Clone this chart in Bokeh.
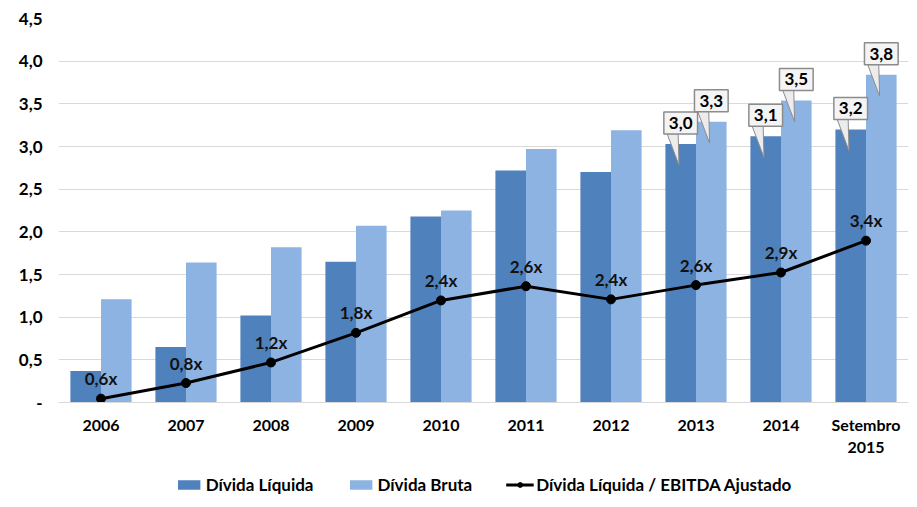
from bokeh.plotting import figure
from bokeh.layouts import column
from bokeh.models import (ColumnDataSource, FactorRange, Range1d, FixedTicker,
                          Legend, LegendItem)
from bokeh.transform import dodge
from bokeh.core.properties import value
from bokeh.embed import file_html
from bokeh.resources import INLINE

# ---------------- data ----------------
categories = ["2006", "2007", "2008", "2009", "2010", "2011", "2012", "2013", "2014", "Setembro\n2015"]
divida_liquida = [0.37, 0.65, 1.02, 1.65, 2.18, 2.72, 2.70, 3.03, 3.12, 3.20]
divida_bruta = [1.21, 1.64, 1.82, 2.07, 2.25, 2.97, 3.19, 3.29, 3.54, 3.84]
ratio = [0.57, 0.855, 1.23, 1.77, 2.36, 2.62, 2.38, 2.64, 2.87, 3.45]
ratio_labels = ["0,6x", "0,8x", "1,2x", "1,8x", "2,4x", "2,6x", "2,4x", "2,6x", "2,9x", "3,4x"]
callout_categories = ["2013", "2014", "Setembro\n2015"]
y_ticks = [0.0, 0.5, 1.0, 1.5, 2.0, 2.5, 3.0, 3.5, 4.0, 4.5]
y_tick_labels = ["-", "0,5", "1,0", "1,5", "2,0", "2,5", "3,0", "3,5", "4,0", "4,5"]
series_names = ["Dívida Líquida", "Dívida Bruta", "Dívida Líquida / EBITDA Ajustado"]

# ---------------- styles ----------------
FONT = "Lato"
DARK = "#4f81bd"
LIGHT = "#8db3e2"
GRID = "#d9d9d9"
BAR_W = 0.36
DODGE = 0.18

source = ColumnDataSource(dict(cat=categories, liq=divida_liquida, bru=divida_bruta,
                               ratio=ratio, rlab=ratio_labels))

p = figure(x_range=FactorRange(*categories), y_range=Range1d(0, 4.5),
           width=910, height=469,
           min_border_left=58, min_border_right=2, min_border_top=18, min_border_bottom=67,
           output_backend="svg", toolbar_location=None)
p.extra_y_ranges = {"ratio": Range1d(0.5, 7.5)}
p.outline_line_color = None
p.background_fill_color = "white"
p.border_fill_color = "white"

line_style = dict(line_color="black", line_width=3)
dot_style = dict(size=9, fill_color="black", line_color="black")

p.vbar(x=dodge("cat", -DODGE, range=p.x_range), top="liq", source=source,
       width=BAR_W, fill_color=DARK, line_color=None)
p.vbar(x=dodge("cat", DODGE, range=p.x_range), top="bru", source=source,
       width=BAR_W, fill_color=LIGHT, line_color=None)

p.line(x="cat", y="ratio", source=source, y_range_name="ratio", **line_style)
p.scatter(x="cat", y="ratio", source=source, y_range_name="ratio", **dot_style)
p.text(x="cat", y="ratio", text="rlab", source=source, y_range_name="ratio",
       y_offset=-20, text_align="center", text_baseline="middle",
       text_font=value(FONT), text_font_style="bold", text_font_size="17px",
       text_color="#111111")

# ---------------- callouts ----------------
cx, cy, ctext, pxs, pys = [], [], [], [], []
for c in callout_categories:
    i = categories.index(c)
    for off, v in ((-DODGE, divida_liquida[i]), (DODGE, divida_bruta[i])):
        xc = i + 0.5 + off
        cx.append(xc)
        cy.append(v)
        ctext.append(f"{v:.1f}".replace(".", ","))
        pxs.append([xc - 0.16, xc - 0.03, xc - 0.02])
        pys.append([v + 0.12, v + 0.12, v - 0.25])

csrc = ColumnDataSource(dict(x=cx, y=cy, t=ctext))
p.patches(xs=pxs, ys=pys, fill_color="#ececec", line_color="#8c8c8c", line_width=1)
p.text(x="x", y="y", text="t", source=csrc, y_offset=-21,
       text_align="center", text_baseline="middle",
       text_font=value(FONT), text_font_style="bold", text_font_size="17px",
       text_color="black", background_fill_color="#f4f4f4",
       border_line_color="#8c8c8c", border_line_width=1.5, padding=5)

# ---------------- axes / grid ----------------
p.xgrid.grid_line_color = None
p.ygrid.grid_line_color = GRID
p.ygrid.ticker = FixedTicker(ticks=y_ticks)

p.yaxis.ticker = FixedTicker(ticks=y_ticks)
p.yaxis.major_label_overrides = dict(zip(y_ticks, y_tick_labels))
p.yaxis.axis_line_color = None
p.yaxis.major_tick_line_color = None
p.yaxis.minor_tick_line_color = None
p.yaxis.major_label_standoff = 10
p.yaxis.major_label_text_font = FONT
p.yaxis.major_label_text_font_style = "bold"
p.yaxis.major_label_text_font_size = "17px"
p.yaxis.major_label_text_color = "black"

p.xaxis.axis_line_color = GRID
p.xaxis.major_tick_line_color = None
p.xaxis.minor_tick_line_color = None
p.xaxis.major_label_standoff = 6
p.xaxis.major_label_text_font = FONT
p.xaxis.major_label_text_font_style = "bold"
p.xaxis.major_label_text_font_size = "16px"
p.xaxis.major_label_text_color = "black"

# ---------------- legend (strip below the chart; series kept out of view) ----------------
lg = figure(width=910, height=30, x_range=p.x_range, y_range=Range1d(-2, -1),
            x_axis_type=None, y_axis_type=None, min_border=0,
            output_backend="svg", toolbar_location=None)
lg.extra_y_ranges = {"ratio": Range1d(-2, -1)}
lg.outline_line_color = None
lg.xgrid.visible = False
lg.ygrid.visible = False
r1 = lg.vbar(x="cat", top="liq", source=source, width=0.0001, fill_color=DARK, line_color=None)
r2 = lg.vbar(x="cat", top="bru", source=source, width=0.0001, fill_color=LIGHT, line_color=None)
r3 = lg.line(x="cat", y="ratio", source=source, y_range_name="ratio", **line_style)
r4 = lg.scatter(x="cat", y="ratio", source=source, y_range_name="ratio", **dot_style)

legend = Legend(items=[
    LegendItem(label=series_names[0], renderers=[r1]),
    LegendItem(label=series_names[1], renderers=[r2]),
    LegendItem(label=series_names[2], renderers=[r3, r4]),
], orientation="horizontal", location="center",
    label_text_font=FONT, label_text_font_style="bold", label_text_font_size="17px",
    label_text_color="black", glyph_width=28, glyph_height=12, label_standoff=3,
    spacing=33, border_line_color=None, background_fill_alpha=0, margin=0, padding=2)
lg.add_layout(legend, "center")

layout = column(p, lg, spacing=0)
open("out.html", "w").write(file_html(layout, INLINE))
